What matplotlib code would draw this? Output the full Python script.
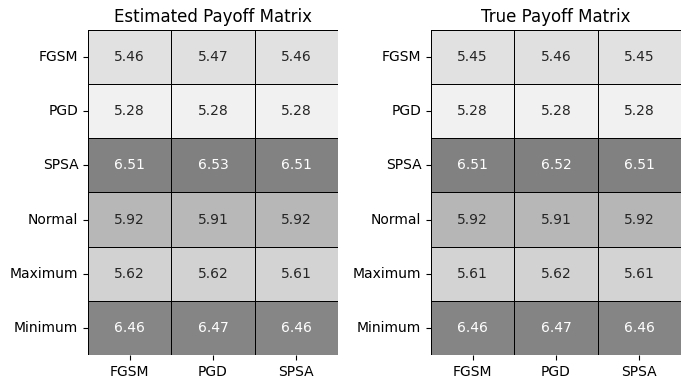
import matplotlib
matplotlib.use("Agg")
import matplotlib.pyplot as plt
import numpy as np
import seaborn as sns

attacks = ["FGSM", "PGD", "SPSA", "Normal", "Maximum", "Minimum"]
defenses = ["FGSM", "PGD", "SPSA"]

estimated = np.array([
    [5.46, 5.47, 5.46],
    [5.28, 5.28, 5.28],
    [6.51, 6.53, 6.51],
    [5.92, 5.91, 5.92],
    [5.62, 5.62, 5.61],
    [6.46, 6.47, 6.46],
])
true_payoff = np.array([
    [5.45, 5.46, 5.45],
    [5.28, 5.28, 5.28],
    [6.51, 6.52, 6.51],
    [5.92, 5.91, 5.92],
    [5.61, 5.62, 5.61],
    [6.46, 6.47, 6.46],
])

cmap = sns.light_palette("gray", as_cmap=True)

fig, axes = plt.subplots(1, 2, figsize=(6.9, 3.9), dpi=100)
for ax, mat, title in zip(axes, [estimated, true_payoff],
                          ["Estimated Payoff Matrix", "True Payoff Matrix"]):
    sns.heatmap(mat, ax=ax, cmap=cmap, annot=True, fmt=".2f", cbar=False,
                linewidths=0.5, linecolor="black",
                xticklabels=defenses, yticklabels=attacks)
    ax.set_title(title)
    ax.tick_params(axis="y", rotation=0)

plt.subplots_adjust(left=0.1275, right=0.987, top=0.923, bottom=0.09, wspace=0.372)
plt.savefig("out.png")
